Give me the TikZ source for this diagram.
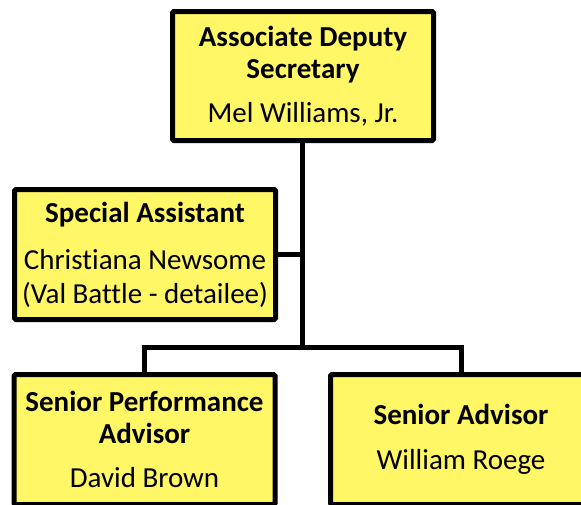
\documentclass[tikz,border=0pt]{standalone}
\usepackage{fontspec}
\setmainfont{Carlito}[Ligatures=NoCommon]
\tikzset{
	post node/.style={rectangle, draw, line width=5pt, fill=yellow!60, rounded corners=1.5pt, minimum width=261pt, minimum height=130pt, inner sep=0pt, align=center, font=\fontsize{29}{32}\selectfont},
	link/.style={draw, line width=5pt},
}

\begin{document}
\begin{tikzpicture}[x=1pt, y=1pt]

  \useasboundingbox (0,0) rectangle (581,-504);

  \node(ads)[post node, minimum height=129pt] at (303,-76)
    {\textbf{Associate Deputy}\\\textbf{Secretary}\\[12pt]Mel Williams, Jr.};
  \node(special)[post node] at (145,-254.5)
    {\textbf{Special Assistant}\\[15pt]Christiana Newsome\\[2pt](Val Battle - detailee)};
  \node(perf)[post node] at (144.5,-439.5)
    {\textbf{Senior Performance}\\\textbf{Advisor}\\[12pt]David Brown};
  \node(senior)[post node] at (461,-439.5)
    {\textbf{Senior Advisor}\\[13pt]William Roege};

  \coordinate(split) at (302,-347);

  \draw[link] (ads.south -| split) -- (split);
  \draw[link] (special.east) -- (special.east -| split);
  \draw[link] (perf.north) |- (split) -| (senior.north);

\end{tikzpicture}
\end{document}
